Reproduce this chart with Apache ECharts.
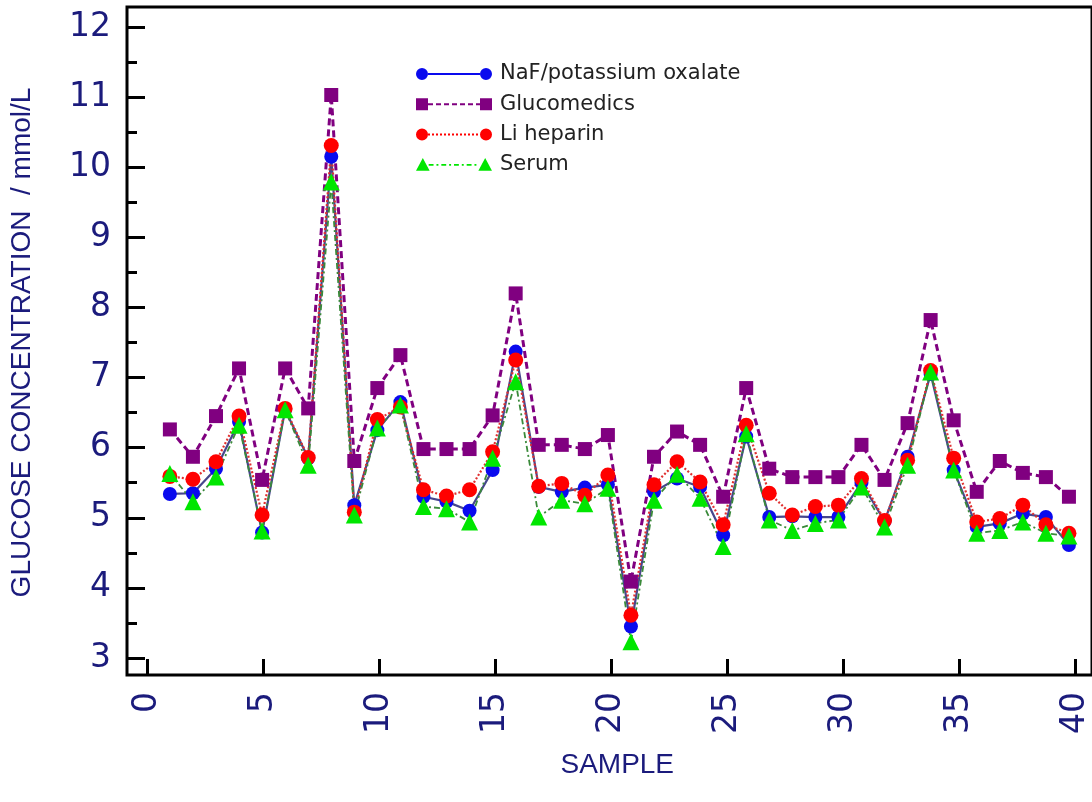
<!DOCTYPE html>
<html>
<head>
<meta charset="utf-8">
<script src="https://cdn.jsdelivr.net/npm/echarts@6/dist/echarts.min.js"></script>
<style>
html,body{margin:0;padding:0;background:#fff;}
#chart{width:1092px;height:802px;}
</style>
</head>
<body>
<div id="chart"></div>
<script>
const samples = [1,2,3,4,5,6,7,8,9,10,11,12,13,14,15,16,17,18,19,20,21,22,23,24,25,26,27,28,29,30,31,32,33,34,35,36,37,38,39,40];
const naf = [5.34,5.35,5.70,6.37,4.79,6.54,5.85,10.15,5.18,6.25,6.65,5.30,5.23,5.10,5.68,7.37,5.44,5.37,5.43,5.47,3.45,5.37,5.56,5.44,4.75,6.16,5.01,5.02,5.01,5.01,5.50,4.95,5.87,7.05,5.68,4.87,4.92,5.06,5.01,4.61];
const glucomedics = [6.26,5.87,6.45,7.13,5.54,7.13,6.56,11.03,5.81,6.85,7.32,5.98,5.98,5.98,6.46,8.20,6.04,6.04,5.98,6.18,4.09,5.87,6.23,6.04,5.30,6.85,5.70,5.58,5.58,5.58,6.04,5.54,6.35,7.82,6.39,5.37,5.81,5.64,5.58,5.30];
const liHeparin = [5.59,5.55,5.80,6.45,5.04,6.56,5.86,10.31,5.08,6.40,6.58,5.40,5.31,5.40,5.94,7.25,5.45,5.49,5.32,5.61,3.61,5.47,5.80,5.51,4.90,6.32,5.35,5.04,5.16,5.18,5.56,4.96,5.82,7.10,5.85,4.94,4.99,5.18,4.90,4.78];
const serum = [5.63,5.23,5.58,6.32,4.81,6.54,5.75,9.79,5.04,6.28,6.61,5.16,5.13,4.94,5.85,6.94,5.01,5.25,5.20,5.42,3.23,5.25,5.62,5.28,4.59,6.20,4.97,4.82,4.92,4.97,5.44,4.87,5.75,7.08,5.68,4.78,4.82,4.94,4.78,4.74];
const seriesNames = ['NaF/potassium oxalate','Glucomedics','Li heparin','Serum'];
const xTitle = 'SAMPLE';
const yTitle = 'GLUCOSE CONCENTRATION  / mmol/L';

const navy = '#1b1b7c';
const font = "'Liberation Sans', Arial, sans-serif";
const tickFont = "'DejaVu Sans', sans-serif";
const pairs = arr => samples.map((s, i) => [s, arr[i]]);

// legend icon: marker at both ends joined by a (dashed) line
function legendIcon(shape, dash) {
  const W = 76, H = 14;
  const marker = cx => {
    if (shape === 'circle') return `M${cx-6},7a6,6 0 1,0 12,0a6,6 0 1,0 -12,0z`;
    if (shape === 'rect') return `M${cx-6},1h12v12h-12z`;
    return `M${cx},0l7,13h-14z`;
  };
  let p = `M0,0M${W},${H}` + marker(6) + marker(W - 6);
  const x0 = 12, x1 = W - 12;
  let x = x0, k = 0;
  while (x < x1) {
    const on = dash[k % dash.length], off = dash[(k + 1) % dash.length];
    const w = Math.min(on, x1 - x);
    p += `M${x},6h${w}v2h${-w}z`;
    x += on + off; k += 2;
  }
  return 'path://' + p;
}

const chart = echarts.init(document.getElementById('chart'), null, {renderer: 'canvas'});
chart.setOption({
  animation: false,
  backgroundColor: '#fff',
  textStyle: {fontFamily: font},
  legend: {
    orient: 'vertical',
    left: 411,
    top: 58,
    itemWidth: 76,
    itemHeight: 14,
    itemGap: 8.3,
    textStyle: {fontSize: 21, color: '#222', fontFamily: tickFont, lineHeight: 22, padding: [0,0,0,3]},
    data: [
      {name: seriesNames[0], icon: legendIcon('circle', [60, 0])},
      {name: seriesNames[1], icon: legendIcon('rect', [5, 3])},
      {name: seriesNames[2], icon: legendIcon('circle', [2, 2])},
      {name: seriesNames[3], icon: legendIcon('triangle', [5, 3, 2, 3])}
    ]
  },
  grid: [
    {left: 127, right: -9.3, top: 7, bottom: 127, show: true, borderColor: '#000', borderWidth: 3, backgroundColor: 'transparent'},
    {left: 127, right: 14, top: 27, bottom: 144},
    {left: 147, right: 14, top: 27, bottom: 127}
  ],
  xAxis: [
    {gridIndex: 0, type: 'value', min: -0.86, max: 41, show: false},
    {gridIndex: 1, type: 'value', min: 0, max: 40, show: false},
    {gridIndex: 2, type: 'value', min: 0, max: 40, interval: 5, position: 'bottom',
     axisLine: {show: false},
     axisTick: {show: true, inside: true, length: 16, lineStyle: {color: '#000', width: 3}},
     axisLabel: {rotate: 90, fontSize: 33, color: navy, margin: 17, fontFamily: tickFont},
     splitLine: {show: false},
     name: xTitle, nameLocation: 'middle', nameGap: 76,
     nameTextStyle: {fontSize: 28, color: navy, fontFamily: font, padding: [0, 0, 0, 12]}}
  ],
  yAxis: [
    {gridIndex: 0, type: 'value', min: 2.7575, max: 12.285, show: false},
    {gridIndex: 1, type: 'value', min: 3, max: 12, interval: 1,
     axisLine: {show: false},
     axisTick: {show: true, inside: true, length: 18, lineStyle: {color: '#000', width: 3}},
     minorTick: {show: true, splitNumber: 2, length: 10, lineStyle: {color: '#000', width: 3}},
     axisLabel: {fontSize: 33, color: navy, margin: 16, fontFamily: tickFont},
     splitLine: {show: false}, minorSplitLine: {show: false},
     name: yTitle, nameLocation: 'middle', nameGap: 91, nameRotate: 90,
     nameTextStyle: {fontSize: 28, color: navy, fontFamily: font}},
    {gridIndex: 2, type: 'value', min: 3, max: 12, show: false}
  ],
  series: [
    {name: seriesNames[0], type: 'line', xAxisIndex: 0, yAxisIndex: 0, data: pairs(naf), clip: false,
     symbol: 'circle', symbolSize: 14, itemStyle: {color: '#0a0aee'},
     lineStyle: {color: '#46468c', width: 2.2, type: 'solid'}},
    {name: seriesNames[1], type: 'line', xAxisIndex: 0, yAxisIndex: 0, data: pairs(glucomedics), clip: false,
     symbol: 'rect', symbolSize: 14, itemStyle: {color: '#800080'},
     lineStyle: {color: '#800080', width: 3, type: [7, 4]}},
    {name: seriesNames[2], type: 'line', xAxisIndex: 0, yAxisIndex: 0, data: pairs(liHeparin), clip: false,
     symbol: 'circle', symbolSize: 15, itemStyle: {color: '#ff0000'},
     lineStyle: {color: '#e03030', width: 2.2, type: [2, 2]}},
    {name: seriesNames[3], type: 'line', xAxisIndex: 0, yAxisIndex: 0, data: pairs(serum), clip: false,
     symbol: 'triangle', symbolSize: 17, itemStyle: {color: '#00e600'},
     lineStyle: {color: '#3a8a3a', width: 1.8, type: [6, 3, 2, 3]}}
  ]
});
</script>
</body>
</html>
